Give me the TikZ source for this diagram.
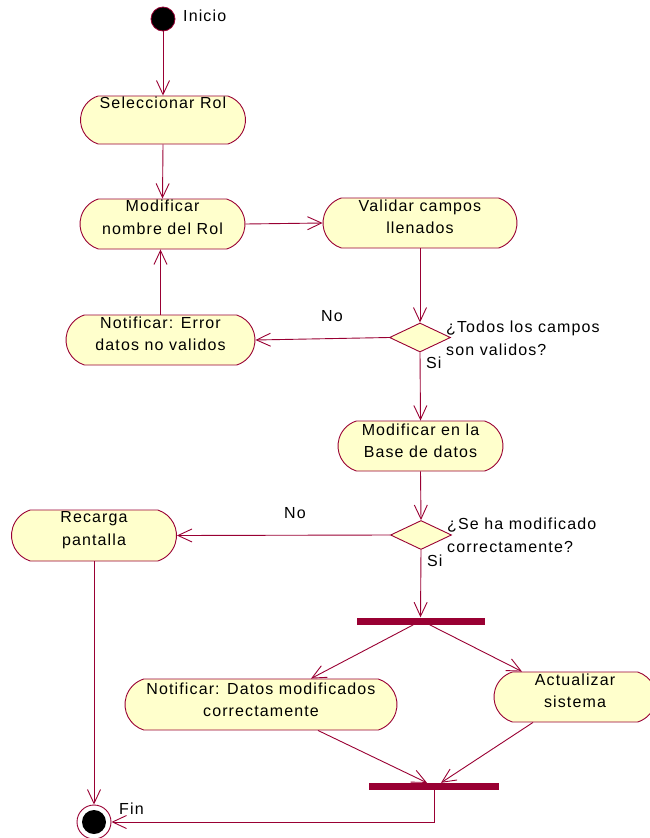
\documentclass[tikz,border=0pt]{standalone}
\usepackage{fontspec}
\setmainfont{Liberation Sans}[LetterSpace=7]
\usetikzlibrary{shapes.misc,shapes.geometric,arrows.meta}
\definecolor{rose}{HTML}{990033}
\definecolor{actfill}{HTML}{FFFFCC}
\begin{document}
\begin{tikzpicture}[x=1pt,y=-1pt,
  txt/.style={font=\fontsize{16}{22.5}\selectfont, inner sep=0pt, text=black, align=center},
  actv/.style={rounded rectangle, rounded rectangle arc length=145, draw=rose, fill=actfill, line width=0.9pt, inner sep=0pt},
  dec/.style={diamond, draw=rose, fill=actfill, line width=0.9pt, inner sep=0pt, minimum width=61pt, minimum height=29pt},
  bar/.style={rectangle, fill=rose, inner sep=0pt, minimum width=130pt, minimum height=7pt},
  flow/.style={draw=rose, line width=0.9pt, -{Straight Barb[length=14pt,width=13pt]}},
]
\useasboundingbox (0,0) rectangle (650,838);

% start
\node[circle, fill=black, draw=rose, line width=0.8pt, minimum size=24pt, inner sep=0pt] (ini) at (163,19) {};
\node[txt, anchor=north west] (inilbl) at (183,10) {Inicio};

% activities
\node[actv, minimum width=165pt, minimum height=48pt] (sel) at (163,120) {};
\node[txt, anchor=north] (seltxt) at ([yshift=-1pt]sel.north) {Seleccionar Rol};

\node[actv, minimum width=165pt, minimum height=50pt] (mod) at (162.5,224) {};
\node[txt, anchor=north] (modtxt) at ([yshift=-1.5pt]mod.north) {Modificar\\nombre del Rol};

\node[actv, minimum width=194pt, minimum height=50pt] (val) at (420,223) {};
\node[txt, anchor=north] (valtxt) at ([yshift=-2pt]val.north) {Validar campos\\llenados};

\node[actv, minimum width=189pt, minimum height=50pt] (err) at (160.5,340) {};
\node[txt, anchor=north] (errtxt) at ([yshift=-2pt]err.north) {Notificar: Error\\datos no validos};

\node[actv, minimum width=165pt, minimum height=50pt] (modb) at (420.5,446) {};
\node[txt, anchor=north] (modbtxt) at ([yshift=-3pt]modb.north) {Modificar en la\\Base de datos};

\node[actv, minimum width=165pt, minimum height=51pt] (rec) at (94,535.5) {};
\node[txt, anchor=north] (rectxt) at ([yshift=-2pt]rec.north) {Recarga\\pantalla};

\node[actv, minimum width=272pt, minimum height=51pt] (notd) at (261,704.5) {};
\node[txt, anchor=north] (notdtxt) at ([yshift=-4pt]notd.north) {Notificar: Datos modificados\\correctamente};

\node[actv, minimum width=162pt, minimum height=50pt] (act) at (575,697) {};
\node[txt, anchor=north] (acttxt) at ([yshift=-2pt]act.north) {Actualizar\\sistema};

% decisions
\node[dec] (d1) at (420,337.5) {};
\node[txt, anchor=north west, align=left] (d1txt) at (446,321) {¿Todos los campos\\son validos?};
\node[txt] (no1) at (332,316) {No};
\node[txt, anchor=north west] (si1) at (426,357) {Si};

\node[dec] (d2) at (421,535) {};
\node[txt, anchor=north west, align=left] (d2txt) at (447,518) {¿Se ha modificado\\correctamente?};
\node[txt] (no2) at (295,513) {No};
\node[txt, anchor=north west] (si2) at (427,555) {Si};

% bars
\node[bar, minimum width=128pt] (fork) at (420.5,621) {};
\node[bar] (join) at (434,786.5) {};

% end
\node[circle, draw=rose, fill=white, line width=0.9pt, minimum size=34pt, inner sep=0pt] (fin) at (94,822) {};
\node[circle, fill=black, minimum size=24pt, inner sep=0pt] (finin) at (94,822) {};
\node[txt, anchor=north west] (finlbl) at (119,803) {Fin};

% flows
\draw[flow] (ini.south) -- (sel.north);
\draw[flow] (sel.south) -- (mod.north);
\draw[flow] (mod.east) -- (val.west);
\draw[flow] (val.south) -- (d1.north);
\draw[flow] (d1.west) -- (err.east);
\draw[flow] (err.north) -- (err.north |- mod.south);
\draw[flow] (d1.south) -- (modb.north);
\draw[flow] (modb.south) -- (d2.north);
\draw[flow] (d2.west) -- (rec.east);
\draw[flow] (d2.south) -- (fork.north);
\draw[flow] ([xshift=-7pt]fork.south) -- ([xshift=50pt]notd.north);
\draw[flow] ([xshift=9pt]fork.south) -- ([xshift=-53pt]act.north);
\draw[flow] ([xshift=57pt]notd.south) -- ([xshift=-7pt]join.north);
\draw[flow] ([xshift=-42pt]act.south) -- ([xshift=7pt]join.north);
\draw[flow] (join.south) |- (fin.east);
\draw[flow] (rec.south) -- (fin.north);
\end{tikzpicture}
\end{document}
